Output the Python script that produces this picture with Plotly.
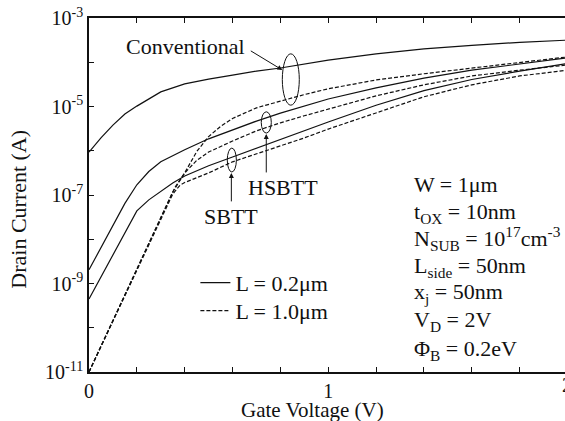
import plotly.graph_objects as go

# ---------------- data ----------------
# L = 0.2 um (solid)
v_conv_s = [0, 0.05, 0.1, 0.15, 0.2, 0.3, 0.4, 0.5, 0.6, 0.7, 0.8, 0.9, 1.0, 1.2, 1.4, 1.6, 1.8, 2.0]
i_conv_s = [9.33e-7, 1.95e-6, 3.80e-6, 6.76e-6, 1.02e-5, 2.14e-5, 3.24e-5, 4.17e-5, 5.13e-5, 6.31e-5,
            7.41e-5, 9.12e-5, 1.12e-4, 1.55e-4, 2.00e-4, 2.40e-4, 2.82e-4, 3.16e-4]

v_hsbtt_s = [0, 0.05, 0.1, 0.15, 0.2, 0.25, 0.3, 0.4, 0.5, 0.6, 0.7, 0.8, 0.9, 1.0, 1.2, 1.4, 1.6, 1.8, 2.0]
i_hsbtt_s = [2.04e-9, 6.46e-9, 2.04e-8, 6.46e-8, 1.70e-7, 3.39e-7, 5.62e-7, 1.05e-6, 1.86e-6, 2.95e-6,
             4.68e-6, 7.08e-6, 1.02e-5, 1.48e-5, 2.63e-5, 4.37e-5, 6.61e-5, 9.12e-5, 1.26e-4]

v_sbtt_s = [0, 0.05, 0.1, 0.15, 0.2, 0.25, 0.3, 0.35, 0.4, 0.5, 0.6, 0.7, 0.8, 0.9, 1.0, 1.2, 1.4, 1.6, 1.8, 2.0]
i_sbtt_s = [4.47e-10, 1.41e-9, 4.47e-9, 1.41e-8, 4.37e-8, 7.76e-8, 1.23e-7, 1.86e-7, 2.69e-7, 4.57e-7,
            7.24e-7, 1.15e-6, 1.78e-6, 2.82e-6, 4.47e-6, 1.07e-5, 2.29e-5, 4.07e-5, 6.31e-5, 9.33e-5]

# L = 1.0 um (dashed)
v_conv_d = [0, 0.1, 0.2, 0.3, 0.36, 0.4, 0.45, 0.5, 0.55, 0.6, 0.7, 0.8, 0.9, 1.0, 1.2, 1.4, 1.6, 1.8, 2.0]
i_conv_d = [1e-11, 1.48e-10, 2.19e-9, 3.24e-8, 1.51e-7, 3.16e-7, 9.55e-7, 2.09e-6, 3.55e-6, 5.37e-6,
            9.33e-6, 1.32e-5, 1.86e-5, 2.51e-5, 3.98e-5, 5.50e-5, 7.41e-5, 1.02e-4, 1.32e-4]

v_hsbtt_d = [0, 0.1, 0.2, 0.3, 0.35, 0.4, 0.45, 0.5, 0.6, 0.7, 0.8, 0.9, 1.0, 1.2, 1.4, 1.6, 1.8, 2.0]
i_hsbtt_d = [1e-11, 1.45e-10, 2.09e-9, 2.88e-8, 1.17e-7, 3.16e-7, 6.03e-7, 9.33e-7, 1.66e-6, 2.82e-6,
             4.27e-6, 6.17e-6, 8.71e-6, 1.74e-5, 3.09e-5, 4.90e-5, 6.61e-5, 8.71e-5]

v_sbtt_d = [0, 0.1, 0.2, 0.3, 0.35, 0.38, 0.4, 0.45, 0.5, 0.6, 0.7, 0.8, 0.9, 1.0, 1.2, 1.4, 1.6, 1.8, 2.0]
i_sbtt_d = [1e-11, 1.41e-10, 2.00e-9, 2.75e-8, 1.05e-7, 1.66e-7, 1.91e-7, 2.45e-7, 3.16e-7, 5.62e-7,
            8.51e-7, 1.29e-6, 1.95e-6, 3.09e-6, 7.08e-6, 1.66e-5, 3.09e-5, 4.90e-5, 6.61e-5]

y_tickvals = [1e-11, 1e-10, 1e-9, 1e-8, 1e-7, 1e-6, 1e-5, 1e-4, 1e-3]
y_ticktext = ["10<sup>-11</sup>", "", "10<sup>-9</sup>", "", "10<sup>-7</sup>", "",
              "10<sup>-5</sup>", "", "10<sup>-3</sup>"]
x_tickvals = [0, 0.2, 0.4, 0.6, 0.8, 1.0, 1.2, 1.4, 1.6, 1.8, 2.0]
x_ticktext = ["0", "", "", "", "", "1", "", "", "", "", "2"]

params = ["W = 1\u03bcm",
          "t<sub>OX</sub> = 10nm",
          "N<sub>SUB</sub> = 10<sup>17</sup>cm<sup>-3</sup>",
          "L<sub>side</sub> = 50nm",
          "x<sub>j</sub> = 50nm",
          "V<sub>D</sub> = 2V",
          "\u03a6<sub>B</sub> = 0.2eV"]

FONT = "Liberation Serif, Times New Roman, serif"
INK = "#111111"
Y_LOG_MIN, Y_LOG_SPAN = -11, 8   # y axis spans 10^-11 .. 10^-3 over the full plot height


def ypaper(logv):
    return (logv - Y_LOG_MIN) / Y_LOG_SPAN


fig = go.Figure()
solid = dict(color=INK, width=1.2)
dashed = dict(color=INK, width=1.2, dash="4px,2px")

fig.add_trace(go.Scatter(x=v_conv_s, y=i_conv_s, mode="lines", line=solid,
                         name="L = 0.2\u03bcm", showlegend=True, legend="legend"))
fig.add_trace(go.Scatter(x=v_hsbtt_s, y=i_hsbtt_s, mode="lines", line=solid, showlegend=False))
fig.add_trace(go.Scatter(x=v_sbtt_s, y=i_sbtt_s, mode="lines", line=solid, showlegend=False))
fig.add_trace(go.Scatter(x=v_conv_d, y=i_conv_d, mode="lines", line=dashed,
                         name="L = 1.0\u03bcm", showlegend=True, legend="legend2"))
fig.add_trace(go.Scatter(x=v_hsbtt_d, y=i_hsbtt_d, mode="lines", line=dashed, showlegend=False))
fig.add_trace(go.Scatter(x=v_sbtt_d, y=i_sbtt_d, mode="lines", line=dashed, showlegend=False))

ann = []
# parameter block
param_y = [-6.77, -7.40, -7.99, -8.62, -9.21, -9.84, -10.50]
for txt, yy in zip(params, param_y):
    ann.append(dict(x=1.351, y=yy, xref="x", yref="y", text=txt, showarrow=False,
                    xanchor="left", yanchor="middle", font=dict(size=22, color=INK, family=FONT)))
# labels
ann.append(dict(x=0.403, y=-3.655, xref="x", yref="y", text="Conventional", showarrow=False,
                font=dict(size=22, color=INK, family=FONT)))
ann.append(dict(x=0.808, y=-4.175, xref="x", yref="y", text="", showarrow=True, ax=-33, ay=-20,
                arrowhead=2, arrowsize=1, arrowwidth=1, arrowcolor=INK, standoff=0))
ann.append(dict(x=0.810, y=-6.84, xref="x", yref="y", text="HSBTT", showarrow=False,
                font=dict(size=22, color=INK, family=FONT)))
ann.append(dict(x=0.741, y=-5.62, xref="x", yref="y", text="", showarrow=True, ax=0, ay=40,
                arrowhead=2, arrowsize=1, arrowwidth=1, arrowcolor=INK, standoff=0))
ann.append(dict(x=0.595, y=-7.48, xref="x", yref="y", text="SBTT", showarrow=False,
                font=dict(size=22, color=INK, family=FONT)))
ann.append(dict(x=0.595, y=-6.50, xref="x", yref="y", text="", showarrow=True, ax=0, ay=30,
                arrowhead=2, arrowsize=1, arrowwidth=1, arrowcolor=INK, standoff=0))
# axis titles
ann.append(dict(x=-0.148, y=0.46, xref="paper", yref="paper", text="Drain Current (A)",
                textangle=-90, showarrow=False, xanchor="center", yanchor="middle",
                font=dict(size=22, color=INK, family=FONT)))
ann.append(dict(x=0.469, y=-0.107, xref="paper", yref="paper", text="Gate Voltage (V)",
                showarrow=False, xanchor="center", yanchor="middle",
                font=dict(size=21, color=INK, family=FONT)))
# right-most tick label, cut by the picture edge
ann.append(dict(x=1.0052, y=-0.037, xref="paper", yref="paper", text="2", showarrow=False,
                xanchor="center", yanchor="middle", font=dict(size=20, color=INK, family=FONT)))

shapes = [
    dict(type="circle", xref="x", yref="paper", x0=0.808, x1=0.879,
         y0=ypaper(-4.97), y1=ypaper(-3.81), line=dict(color=INK, width=1)),
    dict(type="circle", xref="x", yref="paper", x0=0.720, x1=0.762,
         y0=ypaper(-5.60), y1=ypaper(-5.12), line=dict(color=INK, width=1)),
    dict(type="circle", xref="x", yref="paper", x0=0.578, x1=0.616,
         y0=ypaper(-6.48), y1=ypaper(-5.94), line=dict(color=INK, width=1)),
]

leg_common = dict(xanchor="left", yanchor="top", bgcolor="rgba(0,0,0,0)",
                  font=dict(size=22, family=FONT, color=INK), itemwidth=30)

fig.update_layout(
    width=565, height=421,
    margin=dict(l=88.5, r=0, t=18, b=49, pad=0),
    paper_bgcolor="white", plot_bgcolor="white",
    font=dict(family=FONT, size=20, color=INK),
    annotations=ann, shapes=shapes,
    legend=dict(x=0.2235, y=0.311, **leg_common),
    legend2=dict(x=0.2235, y=0.232, **leg_common),
    xaxis=dict(range=[0, 1.9896], tickvals=x_tickvals, ticktext=x_ticktext,
               ticks="inside", ticklen=5, tickwidth=1, tickcolor=INK,
               showline=True, linewidth=1.5, linecolor=INK, mirror="ticks",
               showgrid=False, zeroline=False, tickfont=dict(size=20)),
    yaxis=dict(type="log", range=[-11, -3], tickvals=y_tickvals, ticktext=y_ticktext,
               ticks="inside", ticklen=5, tickwidth=1, tickcolor=INK,
               showline=True, linewidth=1.5, linecolor=INK, mirror=False,
               showgrid=False, zeroline=False, tickfont=dict(size=20)),
)

fig.write_html("out.html")
